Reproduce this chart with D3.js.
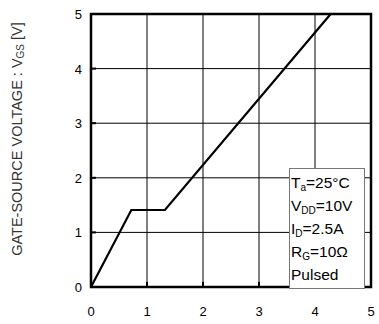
<!DOCTYPE html>
<html>
<head>
<meta charset="utf-8">
<script src="https://cdn.jsdelivr.net/npm/d3@7/dist/d3.min.js"></script>
<style>
  body { margin: 0; background: #fff; }
  svg { font-family: Arial, "Liberation Sans", sans-serif; }
</style>
</head>
<body>
<div id="chart"></div>
<script>
// gate charge curve: x = total gate charge, y = V_GS
var xs = [0, 0.72, 1.32, 4.28];
var ys = [0, 1.41, 1.41, 5];
var xTicks = [0, 1, 2, 3, 4, 5];
var yTicks = [0, 1, 2, 3, 4, 5];
var legendLines = [
  ["T", "a", "=25°C"],
  ["V", "DD", "=10V"],
  ["I", "D", "=2.5A"],
  ["R", "G", "=10Ω"],
  ["Pulsed", "", ""]
];

var W = 379, H = 324;
var margin = {top: 14, right: 8, bottom: 37, left: 91};

var svg = d3.select("#chart").append("svg")
  .attr("width", W).attr("height", H);

var x = d3.scaleLinear().domain([0, 5]).range([margin.left, W - margin.right]);
var y = d3.scaleLinear().domain([0, 5]).range([H - margin.bottom, margin.top]);

// grid
svg.append("g").selectAll("line.gx")
  .data(xTicks.slice(1, -1)).enter().append("line")
  .attr("x1", d => x(d)).attr("x2", d => x(d))
  .attr("y1", y(0)).attr("y2", y(5))
  .attr("stroke", "#000").attr("stroke-width", 1);
svg.append("g").selectAll("line.gy")
  .data(yTicks.slice(1, -1)).enter().append("line")
  .attr("y1", d => y(d)).attr("y2", d => y(d))
  .attr("x1", x(0)).attr("x2", x(5))
  .attr("stroke", "#000").attr("stroke-width", 1);

// short inner ticks
svg.append("g").selectAll("line")
  .data(xTicks.slice(1, -1)).enter().append("line")
  .attr("x1", d => x(d)).attr("x2", d => x(d))
  .attr("y1", y(0)).attr("y2", y(0) - 5)
  .attr("stroke", "#000").attr("stroke-width", 2);
svg.append("g").selectAll("line")
  .data(yTicks.slice(1, -1)).enter().append("line")
  .attr("y1", d => y(d)).attr("y2", d => y(d))
  .attr("x1", x(0)).attr("x2", x(0) + 5)
  .attr("stroke", "#000").attr("stroke-width", 2);

// frame
svg.append("rect")
  .attr("x", x(0)).attr("y", y(5))
  .attr("width", x(5) - x(0)).attr("height", y(0) - y(5))
  .attr("fill", "none").attr("stroke", "#000").attr("stroke-width", 2.5);

// curve
var line = d3.line().x(d => x(d[0])).y(d => y(d[1]));
svg.append("path")
  .datum(xs.map((v, i) => [v, ys[i]]))
  .attr("d", line)
  .attr("fill", "none").attr("stroke", "#000")
  .attr("stroke-width", 2.2).attr("stroke-linejoin", "miter");

// tick labels
svg.append("g").selectAll("text")
  .data(xTicks).enter().append("text")
  .attr("x", d => x(d)).attr("y", y(0) + 29)
  .attr("text-anchor", "middle").attr("font-size", 13)
  .text(d => d);
svg.append("g").selectAll("text")
  .data(yTicks).enter().append("text")
  .attr("x", x(0) - 9).attr("y", d => y(d) + 5)
  .attr("text-anchor", "end").attr("font-size", 13)
  .text(d => d);

// y title
var yt = svg.append("text")
  .attr("transform", "translate(22," + 139 + ") rotate(-90)")
  .attr("text-anchor", "middle").attr("font-size", 14.5).attr("fill", "#333");
yt.append("tspan").text("GATE-SOURCE VOLTAGE : V");
yt.append("tspan").attr("font-size", 10).attr("dy", 2).text("GS");
yt.append("tspan").attr("dy", -2).text(" [V]");

// legend box
var lg = svg.append("g");
lg.append("rect")
  .attr("x", 289.5).attr("y", 168.5).attr("width", 75).attr("height", 120)
  .attr("fill", "#fff").attr("stroke", "#777").attr("stroke-width", 1);
lg.selectAll("text")
  .data(legendLines).enter().append("text")
  .attr("x", 291).attr("y", (d, i) => 188 + i * 23)
  .attr("font-size", 15.5)
  .each(function(d) {
    var t = d3.select(this);
    t.append("tspan").text(d[0]);
    if (d[1]) {
      t.append("tspan").attr("font-size", 10).attr("dy", 3).text(d[1]);
      t.append("tspan").attr("dy", -3).text(d[2]);
    }
  });
</script>
</body>
</html>
